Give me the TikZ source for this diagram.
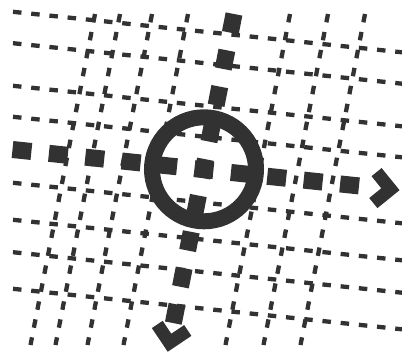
\documentclass[tikz,border=0pt]{standalone}
\usetikzlibrary{calc}
\definecolor{ink}{HTML}{333233}

\begin{document}
\begin{tikzpicture}[x=1pt,y=-1pt,
    gridline/.style={ink,line width=4.3pt,dash pattern=on 8.5pt off 9.8pt},
    axisline/.style={ink,line width=17pt},
    chevron/.style={ink,line width=13pt,line join=miter}]
    \useasboundingbox (0,0) rectangle (402,356);
    \foreach \yl in {11.8,43.2,85.8,116.8,182.8,219.8,252.2,288.8}
        \draw [gridline] (13,\yl) -- (402,\yl+40.5);
    \foreach \xt in {95,120,152,188,290,328,365}
        \draw [gridline] (\xt,14) -- (\xt-64.5,345);
    \coordinate (hl) at (12.5,149.5);
    \coordinate (hr) at ($(hl)+(6:348.4)$);
    \coordinate (hv) at ($(hl)+(6:380)$);
    \coordinate (vt) at (234,14);
    \coordinate (vb) at ($(vt)+(101.1:315)$);
    \coordinate (vv) at ($(vt)+(101.1:335)$);
    \coordinate (c) at (204,169.3);
    \draw [axisline,dash pattern=on 19pt off 17.6pt] (hl) -- (hr);
    \draw [axisline,dash pattern=on 19pt off 18pt] (vt) -- (vb);
    \draw [ink,line width=16pt] (c) circle [radius=52pt];
    \draw [chevron] ($(hv)+(141:22)$) -- (hv) -- ($(hv)+(-129:22)$);
    \draw [chevron] ($(vv)+(236.1:22)$) -- (vv) -- ($(vv)+(-33.9:22)$);
\end{tikzpicture}
\end{document}
